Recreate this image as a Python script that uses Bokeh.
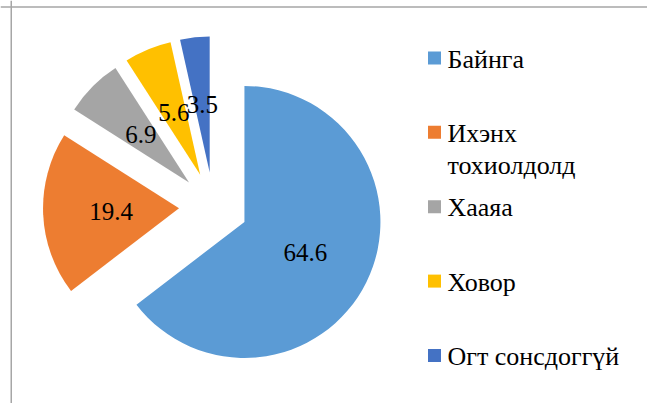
import math
from bokeh.plotting import figure
from bokeh.models import Range1d, Span
from bokeh.core.properties import value
from bokeh.embed import file_html
from bokeh.resources import INLINE

# ---- data ----
categories = ["Байнга", "Ихэнх\nтохиолдолд", "Хааяа", "Ховор", "Огт сонсдоггүй"]
values = [64.6, 19.4, 6.9, 5.6, 3.5]
colors = ["#5B9BD5", "#ED7D31", "#A5A5A5", "#FFC000", "#4472C4"]

# ---- layout (pixels; figure spans 647x403, y up) ----
W, H = 647, 403
CX, CY = 213.0, 196.8      # true pie centre
R = 136.0                  # radius
E = 34.5                   # explosion distance
LR = 0.5 * R               # label distance from slice vertex
FONT = "Liberation Serif"

p = figure(width=W, height=H, x_range=Range1d(0, W), y_range=Range1d(0, H),
           output_backend="svg", toolbar_location=None,
           x_axis_type=None, y_axis_type=None, min_border=0,
           outline_line_color=None, background_fill_color="white",
           border_fill_color="white")
p.grid.visible = False

total = sum(values)
cum = 0.0
xs, ys, starts, ends, lx, ly, labels = [], [], [], [], [], [], []
for v in values:
    t1 = cum / total * 360.0
    t2 = (cum + v) / total * 360.0
    mid = math.radians((t1 + t2) / 2.0)
    cx = CX + E * math.sin(mid)
    cy = CY + E * math.cos(mid)
    xs.append(cx)
    ys.append(cy)
    starts.append(math.radians(90.0 - t1))
    ends.append(math.radians(90.0 - t2))
    lx.append(cx + LR * math.sin(mid))
    ly.append(cy + LR * math.cos(mid))
    labels.append(f"{v:.1f}")
    cum += v

p.wedge(x=xs, y=ys, radius=R, start_angle=starts, end_angle=ends,
        direction="clock", fill_color=colors, line_color=None)

p.text(x=lx, y=ly, text=labels, text_align="center", text_baseline="middle",
       text_font=value(FONT), text_font_size="25px", text_color="#000000")

# ---- legend ----
LEG_X = 434.0
LEG_Y0 = 345.6
LEG_DY = 74.4
SQ = 13
TXT_X = 447
LINE_H = 31.6
sq_x, sq_y, t_x, t_y, t_txt = [], [], [], [], []
for i, cat in enumerate(categories):
    yc = LEG_Y0 - i * LEG_DY
    sq_x.append(LEG_X)
    sq_y.append(yc)
    for j, line in enumerate(cat.split("\n")):
        t_x.append(TXT_X)
        t_y.append(yc - 1.2 - j * LINE_H)
        t_txt.append(line)

p.rect(x=sq_x, y=sq_y, width=SQ, height=SQ, fill_color=colors, line_color=None)
p.text(x=t_x, y=t_y, text=t_txt, text_align="left", text_baseline="middle",
       text_font=value(FONT), text_font_size="26px", text_color="#000000")

# ---- chart-area border (left and top visible) ----
p.add_layout(Span(location=10.75, dimension="height", line_color="#A6A6A6", line_width=1.5))
p.add_layout(Span(location=H - 6.5, dimension="width", line_color="#A6A6A6", line_width=1.5))

open("out.html", "w").write(file_html(p, INLINE))
